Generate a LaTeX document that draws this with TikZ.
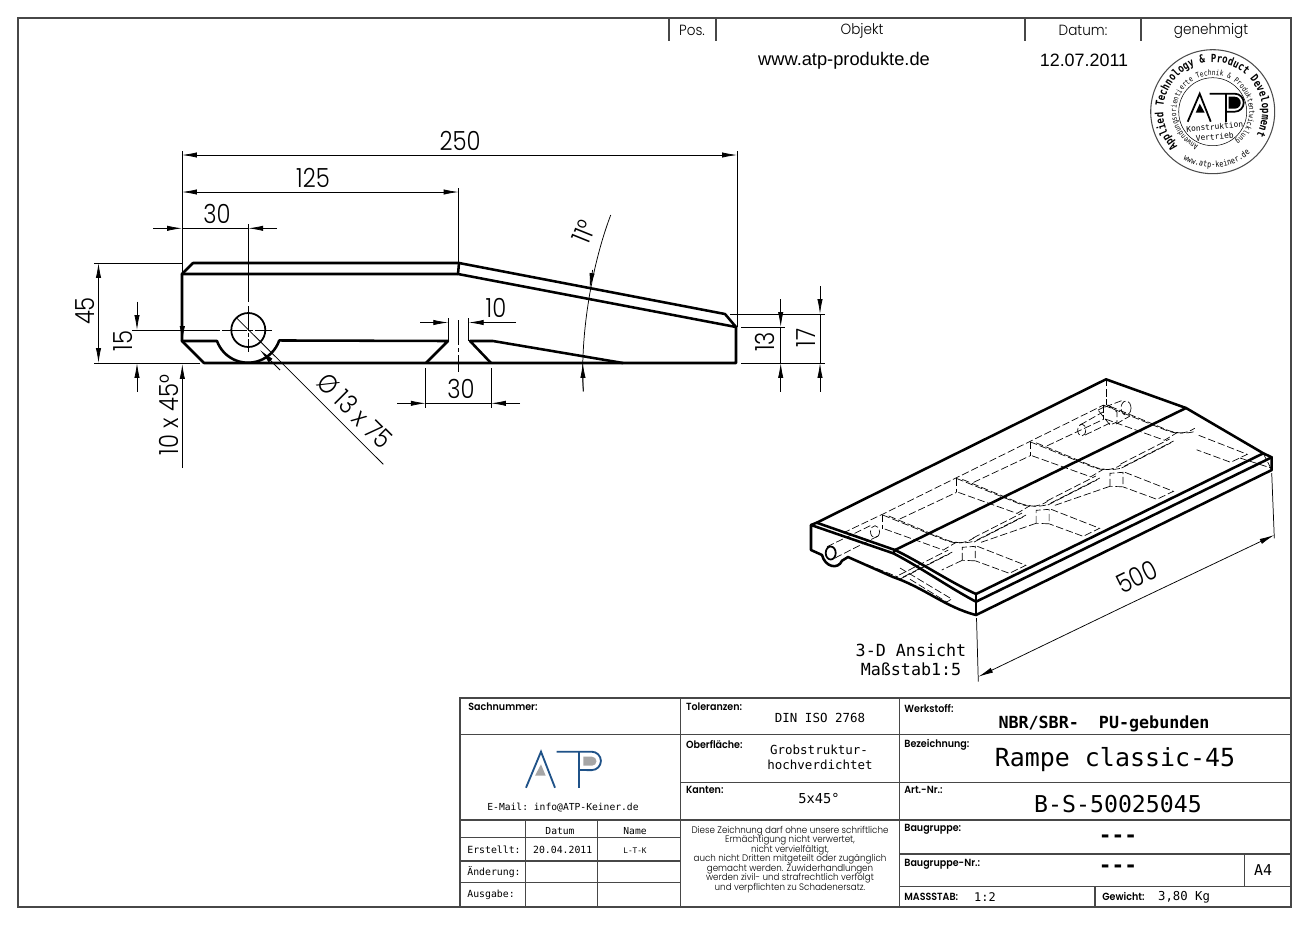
\documentclass[tikz,border=0pt]{standalone}
\usepackage{fontspec}
\usetikzlibrary{arrows.meta,decorations.text}
\newfontfamily\dimfont{Poppins Light}[FakeStretch=.86]
\newfontfamily\lblfont{Poppins SemiBold}[FakeStretch=.92]
\newfontfamily\thinfont{Poppins Light}[FakeStretch=.92]
\newfontfamily\sansfont{Liberation Sans}
\newfontfamily\stampfont{DejaVu Sans Mono}[FakeStretch=.8]
\setmonofont{DejaVu Sans Mono}
\tikzset{
  outl/.style={line width=1.45pt,line join=round,line cap=round},
  dimn/.style={line width=.42pt},
  tip/.style={dimn,-{Latex[length=8.5pt,width=3pt]}},
  hid/.style={line width=.38pt,dash pattern=on 4.2pt off 1.6pt},
  rule/.style={line width=.75pt,draw=black!72},
  dimtext/.style={font=\dimfont\fontsize{15}{15}\selectfont,inner sep=0pt},
  lbl/.style={font=\lblfont\fontsize{5.9}{6}\selectfont,anchor=west,inner sep=0pt},
  mono/.style={font=\ttfamily\fontsize{#1}{#1}\selectfont,inner sep=0pt},
  head/.style={font=\thinfont\fontsize{8.4}{9}\selectfont,inner sep=0pt},
}
\definecolor{logoblue}{HTML}{1F5288}
\begin{document}
\begin{tikzpicture}[x=.02cm,y=-.02cm]
\useasboundingbox (0,0) rectangle (1307,924);
\fill[white] (0,0) rectangle (1307,924);

% frame and header
\draw[rule] (18,18) rectangle (1291,907);
\draw[rule] (669,18)--(669,41);
\draw[rule] (716,18)--(716,41);
\draw[rule] (1025,18)--(1025,41);
\draw[rule] (1141,18)--(1141,41);
\node[head] (pos) at (692,30) {Pos.};
\node[head] (obj) at (862,31) {Objekt};
\node[head] (dat) at (1083,30) {Datum:};
\node[head] (gen) at (1211,31) {genehmigt};
\node[font=\sansfont\fontsize{10.4}{11}\selectfont,inner sep=0pt] (web) at (844,61) {www.atp-produkte.de};
\node[font=\sansfont\fontsize{10.2}{11}\selectfont,inner sep=0pt] (rev) at (1084,60) {12.07.2011};

% stamp
\begin{scope}[shift={(1212.7,111.7)}]
\draw[line width=.6pt,black!70] (0,0) circle[radius=62];
\draw[line width=.3pt] (0,0) circle[radius=34];
\path[decorate,decoration={text along path,text align={fit to path},
  text={|\stampfont\bfseries\fontsize{6.4}{7}\selectfont|Applied Technology {\&} Product Development}}]
  (135:49.5) arc[start angle=135,end angle=388,radius=49.5];
\path[decorate,decoration={text along path,text align={fit to path},
  text={|\stampfont\fontsize{4.3}{5}\selectfont|Anwendungsorientierte Technik {\&} Produktentwicklung}}]
  (113:36.5) arc[start angle=113,end angle=412,radius=36.5];
\path[decorate,decoration={text along path,text align={fit to path},
  text={|\stampfont\fontsize{4.8}{5}\selectfont|www.atp-keiner.de}}]
  (122:56) arc[start angle=122,end angle=48,radius=56];
\draw[line width=1pt] (-25,10)--(-13,-18)--(-2,10);
\fill (-17,1)--(-13,-8)--(-8,1)--cycle;
\draw[line width=1pt] (13,10)--(13,-18);
\draw[line width=1pt] (-3,-18)--(22,-18) arc[start angle=-90,end angle=90,radius=9] --(13,0);
\fill (16,-15)--(22,-15) arc[start angle=-90,end angle=90,radius=6] --(16,-3)--cycle;
\node[mono=4.5,rotate=5] (konstr) at (2,15) {Konstruktion};
\node[mono=4.5,rotate=5] (vertr) at (2,25) {Vertrieb};
\end{scope}

% side view
\draw[outl] (193,263)--(459,263)--(725,314)--(736,327)--(736,363)--(204,363)--(182,341)--(182,274)--(193,263);
\draw[outl] (182,274)--(458,274)--(736,327);
\draw[outl] (458,274)--(459,263);
\draw[outl] (182,341)--(217,341) arc[start angle=160,end angle=19,radius=33] --(448,341)--(426,363);
\draw[outl] (491,363)--(470,341)--(493,341)--(623,363);
\draw[line width=1pt] (248.3,330) circle[radius=17];

% dimensions
\draw[dimn] (182,151)--(182,274);
\draw[dimn] (737,151)--(737,327);
\draw[tip] (460,155)--(182,155);
\draw[tip] (460,155)--(737,155);
\node[dimtext] (d250) at (460,141) {250};
\draw[dimn] (458.6,188)--(458.6,263);
\draw[tip] (320,192)--(182,192);
\draw[tip] (320,192)--(458.6,192);
\node[dimtext] (d125) at (313,178) {125};
\draw[tip] (153,228.3)--(182,228.3);
\draw[tip] (277,228.3)--(248.3,228.3);
\draw[dimn] (182,228.3)--(248.3,228.3);
\draw[dimn] (248.3,224)--(248.3,302);
\node[dimtext] (d30a) at (217,214) {30};
\draw[dimn,dash pattern=on 14pt off 1.5pt on 2pt off 1.5pt] (248.3,306)--(248.3,352);
\draw[dimn,dash pattern=on 14pt off 1.5pt on 2pt off 1.5pt] (222,330)--(272,330);
\draw[dimn] (132,330)--(220,330);
\draw[dimn] (94,263)--(182,263);
\draw[dimn] (94,363)--(200,363);
\draw[tip] (98.5,311)--(98.5,263);
\draw[tip] (98.5,311)--(98.5,363);
\node[dimtext,rotate=90] (d45) at (85,311) {45};
\draw[tip] (137,301.7)--(137,330);
\draw[tip] (137,391.7)--(137,363);
\node[dimtext,rotate=90] (d15) at (123,341) {15};
\draw[tip] (182.3,310)--(182.3,341);
\draw[tip] (182.3,468)--(182.3,364);
\node[dimtext,rotate=90] (dcham) at (169,415) {10 x 45°};
\draw[dimn] (236.7,318)--(383.3,464.3);
\draw[tip] (280,370)--(260,350);
\node[dimtext,rotate=-45] (dhole) at (355,411) {Ø 13 x 75};
\draw[dimn] (448.3,318)--(448.3,341);
\draw[dimn] (468.7,318)--(468.7,341);
\draw[tip] (420,322.5)--(448.3,322.5);
\draw[tip] (516,322.5)--(468.7,322.5);
\node[dimtext] (d10) at (496,308) {10};
\draw[dimn,dash pattern=on 14pt off 2pt on 2pt off 2pt] (458.5,320)--(458.5,372);
\draw[dimn] (425.7,368)--(425.7,408);
\draw[dimn] (491,368)--(491,408);
\draw[tip] (397,403.3)--(425.7,403.3);
\draw[tip] (520,403.3)--(491,403.3);
\draw[dimn] (425.7,403.3)--(491,403.3);
\node[dimtext] (d30b) at (461,389) {30};
\draw[dimn] (583.3,391.7) .. controls (580,340) and (590,270) .. (610.7,215);
\draw[tip] (583.2,391)--(582.7,363);
\draw[tip] (592.6,270)--(589.8,288);
\node[dimtext,rotate=68] (dang) at (584,232) {11°};
\draw[dimn] (730,314)--(825,314);
\draw[dimn] (741,327)--(785,327);
\draw[dimn] (741,363)--(825,363);
\draw[tip] (780.7,299.3)--(780.7,327);
\draw[tip] (780.7,391.7)--(780.7,363);
\draw[dimn] (780.7,327)--(780.7,363);
\node[dimtext,rotate=90] (d13) at (765,342) {13};
\draw[tip] (820,286)--(820,314);
\draw[tip] (820,391.7)--(820,363);
\draw[dimn] (820,314)--(820,363);
\node[dimtext,rotate=90] (d17) at (806,338) {17};

% 3-D view, hidden edges
\draw[hid] (843,533)--(883,514)--(1103.7,405);
\foreach \k in {0,1,2,3}{
\begin{scope}[shift={(882.7+\k*73.7,515+\k*-36.6)}]
\draw[hid] (0,0)--(0,14);
\draw[hid] (0,0)--(62,25) .. controls (72,29) and (82,29) .. (91,23);
\draw[hid] (6,1)--(64,25) .. controls (72,28) and (82,29) .. (92,26);
\draw[hid] (2,14)--(60.6,35)--(74,27);
\end{scope}
}
\foreach \k in {0,1,2}{
\begin{scope}[shift={(882.7+\k*73.7,515+\k*-36.6)}]
\draw[hid] (17,4)--(73.7,-22.6);
\end{scope}
}
\foreach \k in {-1,0,1,2}{
\begin{scope}[shift={(973+\k*73.8,538+\k*-37)}]
\draw[hid] (0,0)--(49,-25);
\draw[hid] (4,2)--(53,-23);
\draw[hid] (1,4)--(50,-21);
\end{scope}
}
\foreach \k in {0,1,2,3}{
\begin{scope}[shift={(962.3+\k*73.8,547.3+\k*-37)}]
\draw[hid] (15,-1)--(63.5,18)--(47,26)--(13,13.5);
\end{scope}
}
\foreach \k in {0,1,2}{
\begin{scope}[shift={(962.3+\k*73.8,547.3+\k*-37)}]
\draw[hid] (0,13)--(0,0)--(13,-1)--(13,13.5)--cycle;
\end{scope}
}
\foreach \k in {1,2}{
\begin{scope}[shift={(962.3+\k*73.8,547.3+\k*-37)}]
\draw[hid] (0,13)--(-55,32);
\end{scope}
}
\draw[hid] (962.3,560.3)--(941.7,570);
\draw[hid] (900,568)--(951.7,599)--(946.7,602)--(908,578);
\draw[hid] (848,557)--(898,577);
\draw[hid] (827,546.7)--(871.7,525);
\draw[hid] (835,558)--(880,535);
\draw[hid] (875,531.7) ellipse[x radius=4.5,y radius=6];
\draw[hid] (1080,425)--(1103,412);
\draw[hid] (1085,435)--(1110,423);
\draw[hid] (1081.7,430) ellipse[x radius=4,y radius=6];
\draw[hid] (1105,407)--(1122,400.5);
\draw[hid] (1116,424)--(1130,416);
\draw[hid] (1126,408) ellipse[x radius=5,y radius=7];
\draw[hid] (1098,410)--(1108,405)--(1117,412)--(1117,422)--(1110,425)--cycle;
\draw[hid] (1106,379)--(1106,405);
\draw[hid] (1240,458)--(1271,468);
\draw[hid] (1263,453)--(1271.7,470);

% 3-D view, outline
\draw[outl] (816.7,522.7)--(1106,379.3)--(1186,408)--(1263.3,453.3)--(1271.7,457.3)--(1271.7,470)--(976,615);
\draw[outl] (811,525)--(816.7,522.7);
\draw[outl] (816.7,522.7)--(895,550) .. controls (920,562) and (950,582) .. (976,594)--(1263.3,453.3);
\draw[outl] (811,525)--(893.3,553.3) .. controls (920,567) and (950,588) .. (976,601.7)--(1271.7,457.3);
\draw[outl] (895,550)--(893.3,553.3);
\draw[outl] (895,550)--(1186,408);
\draw[outl] (976,594)--(976,615);
\draw[outl] (811,525)--(811,550)--(822,555) .. controls (825,567) and (838,570) .. (842,560.7)--(848,557)--(893,577) .. controls (925,588) and (945,607) .. (976,615);
\draw[line width=1pt] (830.7,553) ellipse[x radius=5,y radius=6.5];

% 3-D view, dimension
\draw[dimn] (976.5,618)--(978.3,681.7);
\draw[dimn] (1271.7,473)--(1274.3,538.3);
\draw[tip] (1126,605.5)--(978.3,676.7);
\draw[tip] (1126,605.5)--(1274.3,535);
\node[dimtext,rotate=26] (d500) at (1136.7,576.7) {500};
\node[mono=9.5] (ans) at (911,650) {3-D Ansicht};
\node[mono=9.5] (mstab) at (911,669) {Maßstab1:5};

% title block
\draw[rule] (460,907)--(460,698)--(1291,698);
\draw[rule] (680.5,698)--(680.5,907);
\draw[rule] (899.3,698)--(899.3,907);
\draw[rule] (460,734.5)--(1291,734.5);
\draw[rule] (680.5,782.2)--(1291,782.2);
\draw[rule] (460,820)--(1291,820);
\draw[rule] (460,837.7)--(680.5,837.7);
\draw[rule] (460,861)--(680.5,861);
\draw[rule] (460,882.7)--(680.5,882.7);
\draw[rule] (525.3,820)--(525.3,907);
\draw[rule] (597.7,820)--(597.7,907);
\draw[rule] (899.3,854)--(1291,854);
\draw[rule] (899.3,886.7)--(1291,886.7);
\draw[rule] (1244.5,854)--(1244.5,886.7);
\draw[rule] (1095,886.7)--(1095,907);

\node[lbl] (sach) at (468,707) {Sachnummer:};
\node[lbl] (tol) at (685.7,707) {Toleranzen:};
\node[lbl] (obfl) at (685.7,744) {Oberfläche:};
\node[lbl] (kant) at (685.7,790) {Kanten:};
\node[lbl] (werk) at (904,708) {Werkstoff:};
\node[lbl] (bez) at (904,745) {Bezeichnung:};
\node[lbl] (art) at (904,790) {Art.-Nr.:};
\node[lbl] (bgr) at (904,829) {Baugruppe:};
\node[lbl] (bgrn) at (904,864) {Baugruppe-Nr.:};
\node[lbl] (mass) at (904,897) {MASSSTAB:};
\node[lbl] (gew) at (1102,896) {Gewicht:};

\node[mono=7.1] (din) at (820,718) {DIN ISO 2768};
\node[mono=7.1] (grob) at (819,750) {Grobstruktur-};
\node[mono=7.1] (hoch) at (820,765) {hochverdichtet};
\node[mono=7.8] (kante) at (819,798) {5x45°};
\node[font=\ttfamily\bfseries\fontsize{9.5}{10}\selectfont,inner sep=0pt] (mat) at (1104,724) {NBR/SBR-\ \ PU-gebunden};
\node[mono=14.2] (name) at (1115,760) {Rampe classic-45};
\node[mono=13.2] (artnr) at (1118,804) {B-S-50025045};
\node[font=\ttfamily\bfseries\fontsize{12}{12}\selectfont,inner sep=0pt] (bg1) at (1118,839) {---};
\node[font=\ttfamily\bfseries\fontsize{12}{12}\selectfont,inner sep=0pt] (bg2) at (1118,869) {---};
\node[mono=8.5] (fmt) at (1263,870) {A4};
\node[mono=6.8] (mst) at (985,897) {1:2};
\node[mono=7] (wgt) at (1184,897) {3,80 Kg};

\node[mono=5.5] (mail) at (563,808) {E-Mail: info@ATP-Keiner.de};
\node[mono=5.5] (th1) at (560,830.7) {Datum};
\node[mono=5.5] (th2) at (635,830.7) {Name};
\node[mono=5.6,anchor=west] (r1) at (467,850) {Erstellt:};
\node[mono=5.6,anchor=west] (r2) at (467,871.7) {Änderung:};
\node[mono=5.6,anchor=west] (r3) at (467,895) {Ausgabe:};
\node[mono=5.6] (r1a) at (562.7,849.5) {20.04.2011};
\node[mono=4.4] (r1b) at (635,850.7) {L-T-K};

\lineskiplimit=-5pt
\node[font=\thinfont\fontsize{5.4}{5.42}\selectfont,align=center,inner sep=0pt] (note) at (790,859.5) {Diese Zeichnung darf ohne unsere schriftliche\\Ermächtigung nicht verwertet,\\nicht vervielfältigt,\\auch nicht Dritten mitgeteilt oder zugänglich\\gemacht werden. Zuwiderhandlungen\\werden zivil- und strafrechtlich verfolgt\\und verpflichten zu Schadenersatz.};

% logo
\draw[logoblue,line width=1.05pt] (526,787.7)--(541,751.7)--(555,787.7);
\fill[black!35] (535,775.7)--(541,764.3)--(545.7,775.7)--cycle;
\draw[logoblue,line width=1.05pt] (579.3,787.7)--(579.3,751.7);
\draw[logoblue,line width=1.05pt] (556.7,751.7)--(591.7,751.7) arc[start angle=-90,end angle=90,radius=9.2] --(579.3,770);
\fill[black!35] (583.3,756.7)--(592,756.7) arc[start angle=-90,end angle=90,radius=4.5] --(583.3,765.7)--cycle;
\end{tikzpicture}
\end{document}
